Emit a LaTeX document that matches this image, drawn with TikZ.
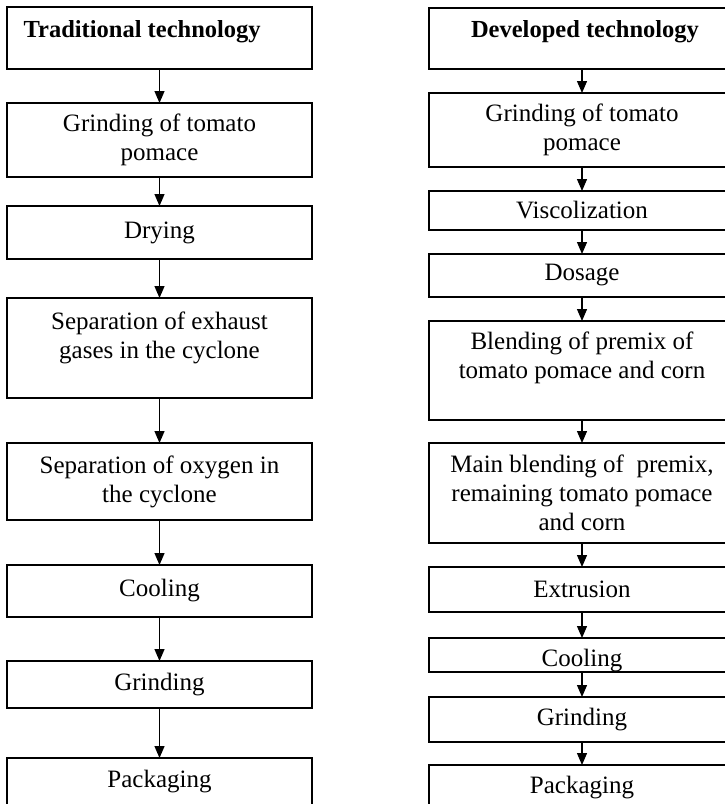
\documentclass[tikz,border=0pt]{standalone}
\usepackage{fontspec}
\setmainfont{Liberation Serif}
\usepackage{tikz}
\usetikzlibrary{arrows.meta, positioning}
\tikzset{flow font/.style={font=\fontsize{25pt}{29pt}\selectfont}}
\tikzset{stepbox/.style={draw,line width=1.4pt,inner sep=0pt,outer sep=0pt,align=center,flow font}}
\tikzset{trad/.style={stepbox,minimum width=305pt}}
\tikzset{devl/.style={stepbox,minimum width=306pt}}
\tikzset{steptext/.style={inner sep=0pt,align=center,flow font}}
\tikzset{titletext/.style={inner sep=0pt,font=\fontsize{24.5pt}{28pt}\selectfont\bfseries}}

\begin{document}
\begin{tikzpicture}[x=1pt,y=-1pt,>={Triangle[length=12pt,width=10pt]},line width=1.3pt]
                    \useasboundingbox (0,0) rectangle (725,804);
                    \clip (0,0) rectangle (725,804);

                    \node[trad,minimum height=62pt](T1) at (159.5,38) {};
                    \node[titletext,anchor=base west](T1t) at (23,37) {Traditional technology};
                    \node[trad,minimum height=74pt](T2) at (159.5,140) {Grinding of tomato\\pomace};
                    \node[trad,minimum height=53pt](T3) at (159.5,232.5) {Drying};
                    \node[trad,minimum height=100pt](T4) at (159.5,348) {};
                    \node[steptext,below=13pt of T4.north](T4t) {Separation of exhaust\\gases in the cyclone};
                    \node[trad,minimum height=77pt](T5) at (159.5,481.5) {Separation of oxygen in\\the cyclone};
                    \node[trad,minimum height=52pt](T6) at (159.5,591) {Cooling};
                    \node[trad,minimum height=47pt](T7) at (159.5,684.5) {Grinding};
                    \node[trad,minimum height=48pt](T8) at (159.5,782) {Packaging};

                    \node[devl,minimum height=61pt](D1) at (582,38.5) {};
                    \node[titletext,anchor=base](D1t) at (585,37) {Developed technology};
                    \node[devl,minimum height=74pt](D2) at (582,130) {Grinding of tomato\\pomace};
                    \node[devl,minimum height=39pt](D3) at (582,210.5) {Viscolization};
                    \node[devl,minimum height=43pt](D4) at (582,275.5) {Dosage};
                    \node[devl,minimum height=99pt](D5) at (582,370.5) {};
                    \node[steptext,below=10pt of D5.north](D5t) {Blending of premix of\\tomato pomace and corn};
                    \node[devl,minimum height=100pt](D6) at (582,493) {Main blending of \ premix,\\remaining tomato pomace\\and corn};
                    \node[devl,minimum height=45pt](D7) at (582,589.5) {Extrusion};
                    \node[devl,minimum height=34pt](D8) at (582,655) {};
                    \begin{scope}
                        \clip (D8.north west) rectangle (D8.south east);
                        \node[steptext,anchor=base](D8t) at (582,666) {Cooling};
                    \end{scope}
                    \node[devl,minimum height=45pt](D9) at (582,719.5) {Grinding};
                    \node[devl,minimum height=45pt](D10) at (582,787.5) {Packaging};

                    \path[->] (T1) edge (T2);
                    \path[->] (T2) edge (T3);
                    \path[->] (T3) edge (T4);
                    \path[->] (T4) edge (T5);
                    \path[->] (T5) edge (T6);
                    \path[->] (T6) edge (T7);
                    \path[->] (T7) edge (T8);

                    \path[->] (D1) edge (D2);
                    \path[->] (D2) edge (D3);
                    \path[->] (D3) edge (D4);
                    \path[->] (D4) edge (D5);
                    \path[->] (D5) edge (D6);
                    \path[->] (D6) edge (D7);
                    \path[->] (D7) edge (D8);
                    \path[->] (D8) edge (D9);
                    \path[->] (D9) edge (D10);
                \end{tikzpicture}
\end{document}
